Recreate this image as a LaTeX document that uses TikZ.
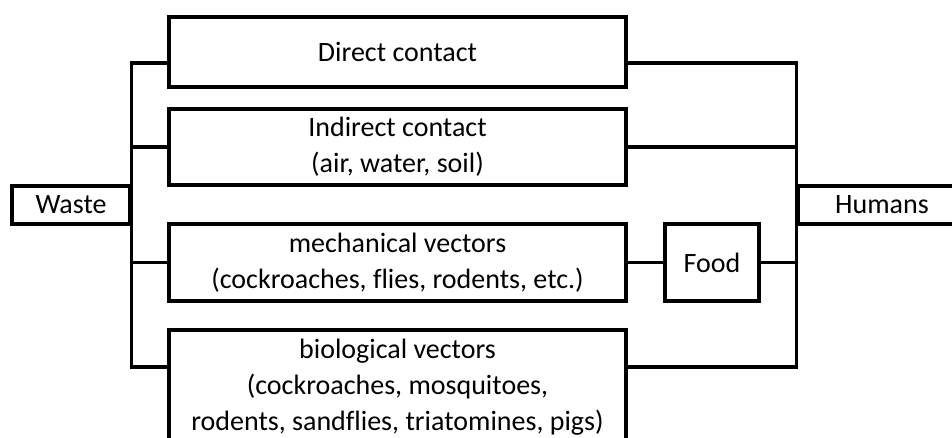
\documentclass[tikz,border=0pt]{standalone}
\usepackage{fontspec}
\setmainfont{Carlito}[Ligatures=NoCommon]

\begin{document}
\begin{tikzpicture}[x=1pt, y=-1pt,
  box/.style={draw, line width=3.2pt, rectangle, align=center, inner sep=0pt, font=\fontsize{28}{36}\selectfont},
  route/.style={box, minimum width=457pt},
  link/.style={line width=3.2pt}]
\clip (0,0) rectangle (952,438);
% end points
\node[box, minimum width=118pt, minimum height=38pt] (waste) at (71,205) {Waste};
\node[box, minimum width=168pt, minimum height=38pt] (humans) at (882,205) {Humans};
% routes
\node[route, minimum height=70pt] (direct) at (397.5,52) {Direct contact};
\node[route, minimum height=76pt] (indirect) at (397.5,147) {Indirect contact\\(air, water, soil)};
\node[route, minimum height=77pt] (mech) at (397.5,262.5) {mechanical vectors\\(cockroaches, flies, rodents, etc.)};
\node[route, minimum height=114pt] (bio) at (397.5,387) {biological vectors\\(cockroaches, mosquitoes,\\rodents, sandflies, triatomines, pigs)};
\node[box, minimum width=94pt, minimum height=77pt] (food) at (712,262.5) {Food};
% left bus
\draw[link] ([yshift=-11pt]direct.west) -| (waste.east);
\draw[link] (indirect.west) -| (waste.east);
\draw[link] (mech.west) -| (waste.east);
\draw[link] ([yshift=20pt]bio.west) -| (waste.east);
% right bus
\draw[link] ([yshift=-11pt]direct.east) -| (humans.west);
\draw[link] (indirect.east) -| (humans.west);
\draw[link] (mech.east) -- (food.west);
\draw[link] (food.east) -| (humans.west);
\draw[link] ([yshift=20pt]bio.east) -| (humans.west);
\end{tikzpicture}
\end{document}
